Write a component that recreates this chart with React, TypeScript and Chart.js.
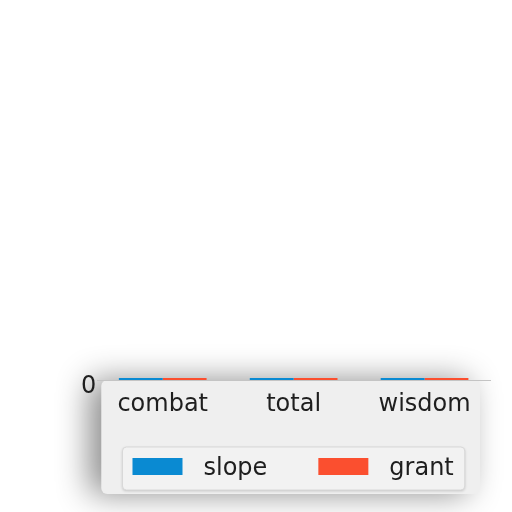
import { useEffect, useRef } from 'react';
import { Chart, registerables } from 'chart.js';

Chart.register(...registerables);

const categories = ['combat', 'total', 'wisdom'];
const slopeValues = [5, 5, 5];
const grantValues = [5, 5, 5];
const seriesNames = ['slope', 'grant'];
const seriesColors = ['#0a8ad2', '#fb4f2f'];

const FONT = '"DejaVu Sans", sans-serif';
const TEXT_COLOR = '#1e1e1e';

// light gray panel with a soft shadow under the axis
const panelPlugin = {
  id: 'panelBackground',
  beforeDraw(chart: Chart) {
    const { ctx, chartArea } = chart;
    ctx.save();
    ctx.shadowColor = 'rgba(0, 0, 0, 0.45)';
    ctx.shadowBlur = 32;
    ctx.shadowOffsetX = -12;
    ctx.fillStyle = '#efefef';
    ctx.beginPath();
    ctx.roundRect(chartArea.left + 4, chartArea.bottom, chartArea.right - chartArea.left - 14, 114, 6);
    ctx.fill();
    ctx.restore();
  },
};

// framed legend drawn from the datasets
const framedLegendPlugin = {
  id: 'framedLegend',
  afterDraw(chart: Chart) {
    const { ctx, chartArea } = chart;
    const boxW = 50;
    const boxH = 17;
    const gap = 21;
    const itemGap = 51;
    ctx.save();
    ctx.font = `24px ${FONT}`;
    const items = chart.data.datasets.map((ds) => ({
      label: ds.label as string,
      color: ds.backgroundColor as string,
      textW: ctx.measureText(ds.label as string).width,
    }));
    const total =
      items.reduce((s, it) => s + boxW + gap + it.textW, 0) + itemGap * (items.length - 1);
    const frameW = total + 21;
    const frameH = 43;
    const frameX = (chartArea.left + chartArea.right) / 2 - frameW / 2;
    const frameY = chartArea.bottom + 67;

    ctx.shadowColor = 'rgba(0, 0, 0, 0.2)';
    ctx.shadowBlur = 3;
    ctx.shadowOffsetY = 1;
    ctx.fillStyle = '#f2f2f2';
    ctx.beginPath();
    ctx.roundRect(frameX, frameY, frameW, frameH, 4);
    ctx.fill();
    ctx.shadowColor = 'transparent';
    ctx.strokeStyle = '#d8d8d8';
    ctx.lineWidth = 1;
    ctx.stroke();

    let x = frameX + 10;
    const cy = frameY + frameH / 2;
    ctx.textBaseline = 'middle';
    items.forEach((it) => {
      ctx.fillStyle = it.color;
      ctx.fillRect(x, cy - boxH / 2 - 2, boxW, boxH);
      x += boxW + gap;
      ctx.fillStyle = TEXT_COLOR;
      ctx.fillText(it.label, x, cy);
      x += it.textW + itemGap;
    });
    ctx.restore();
  },
};

export default function App() {
  const canvasRef = useRef<HTMLCanvasElement | null>(null);

  useEffect(() => {
    if (!canvasRef.current) return;
    const chart = new Chart(canvasRef.current, {
      type: 'bar',
      data: {
        labels: categories,
        datasets: [
          {
            label: seriesNames[0],
            data: slopeValues,
            backgroundColor: seriesColors[0],
            barPercentage: 1,
            categoryPercentage: 0.67,
          },
          {
            label: seriesNames[1],
            data: grantValues,
            backgroundColor: seriesColors[1],
            barPercentage: 1,
            categoryPercentage: 0.67,
          },
        ],
      },
      options: {
        animation: false,
        responsive: false,
        layout: {
          padding: { top: 378, left: 80, right: 22, bottom: 96 },
        },
        plugins: {
          legend: { display: false },
          tooltip: { enabled: false },
        },
        scales: {
          x: {
            grid: { display: false, drawTicks: false },
            border: { display: true, color: '#c4c4c4', width: 1 },
            ticks: {
              color: TEXT_COLOR,
              font: { family: FONT, size: 24 },
              padding: 10,
              maxRotation: 0,
            },
            // the plot is squeezed almost flat; keep room for the labels anyway
            afterFit(scale) {
              scale.height = 36;
            },
          },
          y: {
            beginAtZero: true,
            grid: { display: false, drawTicks: false },
            border: { display: false },
            ticks: {
              color: TEXT_COLOR,
              font: { family: FONT, size: 24 },
              padding: 1,
              labelOffset: 7,
            },
          },
        },
      },
      plugins: [panelPlugin, framedLegendPlugin],
    });
    return () => chart.destroy();
  }, []);

  return (
    <div style={{ position: 'absolute', top: 0, left: 0, width: 512, height: 512, background: '#fff' }}>
      <canvas ref={canvasRef} width={512} height={512}></canvas>
    </div>
  );
}
